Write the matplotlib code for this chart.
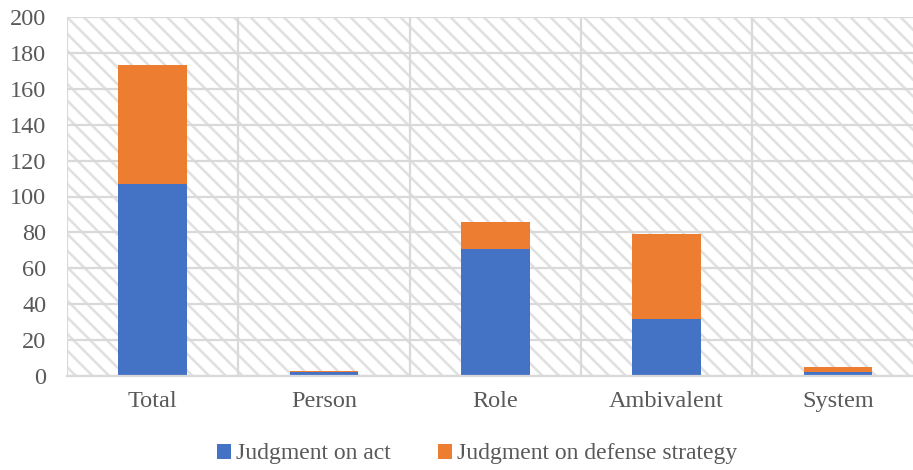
import matplotlib
matplotlib.use("Agg")
import matplotlib.pyplot as plt
import numpy as np
from matplotlib.patches import Rectangle

categorias = ["Total", "Person", "Role", "Ambivalent", "System"]
acto = [107, 2, 71, 32, 2]
estrategia = [66, 1, 15, 47, 3]
ticks_y = [0, 20, 40, 60, 80, 100, 120, 140, 160, 180, 200]

azul = "#4472C4"
naranja = "#ED7D31"
gris_texto = "#595959"
gris_rejilla = "#d9d9d9"

plt.rcParams["font.family"] = ["Liberation Serif", "DejaVu Serif"]
plt.rcParams["hatch.linewidth"] = 1.8
plt.rcParams["hatch.color"] = "#e0e0e0"

fig = plt.figure(figsize=(9.13, 4.70), dpi=100)
ax = fig.add_axes([67 / 913, 1 - 376 / 470, 856.5 / 913, 359 / 470])

# fondo rayado del area del grafico
fondo = Rectangle((0, 0), 1, 1, transform=ax.transAxes, facecolor="white",
                  edgecolor="#e0e0e0", hatch="\\\\", linewidth=0, zorder=0)
ax.add_patch(fondo)

x = np.arange(len(categorias))
ax.bar(x, acto, width=0.4, color=azul, label="Judgment on act", zorder=3)
ax.bar(x, estrategia, width=0.4, bottom=acto, color=naranja,
       label="Judgment on defense strategy", zorder=3)

ax.set_xlim(-0.5, len(categorias) - 0.5)
ax.set_ylim(0, 200)
ax.set_yticks(ticks_y)
ax.set_xticks(x)
ax.set_xticklabels(categorias)
ax.set_xticks(np.arange(-0.5, len(categorias), 1), minor=True)

ax.grid(axis="y", color=gris_rejilla, linewidth=1.6, zorder=1)
ax.grid(axis="x", which="minor", color=gris_rejilla, linewidth=1.6, zorder=1)
ax.grid(axis="x", which="major", visible=False)

for lado in ["top", "right", "left"]:
    ax.spines[lado].set_visible(False)
ax.spines["bottom"].set_color(gris_rejilla)
ax.spines["bottom"].set_linewidth(1.6)
ax.spines["bottom"].set_zorder(4)

ax.tick_params(axis="both", which="both", length=0, labelsize=17.5, colors=gris_texto)
ax.tick_params(axis="y", pad=15)
ax.tick_params(axis="x", pad=11)

fig.legend(loc="center", bbox_to_anchor=(477 / 913, 1 - 454 / 470), ncol=2,
           frameon=False, fontsize=17, handlelength=0.6, handleheight=0.6,
           handletextpad=0.2, columnspacing=2.0, labelcolor=gris_texto)

fig.savefig("out.png", dpi=100)
